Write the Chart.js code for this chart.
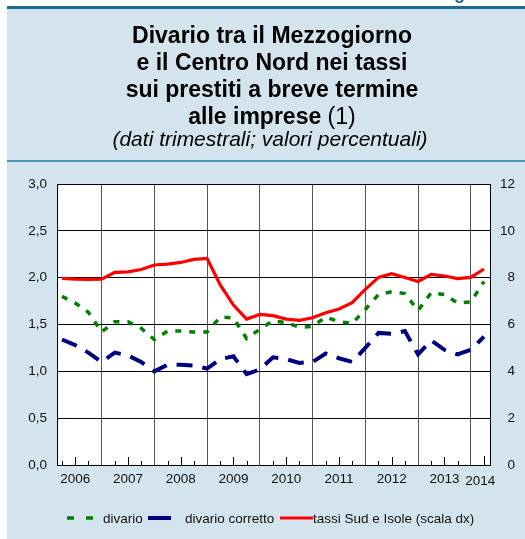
<!DOCTYPE html>
<html><head><meta charset="utf-8">
<script src="https://cdn.jsdelivr.net/npm/chart.js@4.4.0/dist/chart.umd.min.js"></script>
<style>html,body{margin:0;padding:0;background:#fff;overflow:hidden}#wrap{width:525px;height:539px;position:relative}</style>
</head><body><div id="wrap"><canvas id="c" width="525" height="539"></canvas></div>
<script>
const periods = ["2006-Q1","2006-Q2","2006-Q3","2006-Q4","2007-Q1","2007-Q2","2007-Q3","2007-Q4",
  "2008-Q1","2008-Q2","2008-Q3","2008-Q4","2009-Q1","2009-Q2","2009-Q3","2009-Q4",
  "2010-Q1","2010-Q2","2010-Q3","2010-Q4","2011-Q1","2011-Q2","2011-Q3","2011-Q4",
  "2012-Q1","2012-Q2","2012-Q3","2012-Q4","2013-Q1","2013-Q2","2013-Q3","2013-Q4","2014-Q1"];
const divario = [1.80,1.73,1.63,1.42, 1.53,1.53,1.46,1.34, 1.43,1.43,1.42,1.42, 1.58,1.57,1.35,1.45,
  1.54,1.52,1.47,1.48, 1.58,1.53,1.51,1.66, 1.82,1.85,1.83,1.65, 1.84,1.82,1.73,1.74, 1.96];
const divarioCorretto = [1.34,1.28,1.20,1.10, 1.20,1.17,1.10,1.00, 1.07,1.07,1.06,1.03, 1.13,1.16,0.97,1.02,
  1.15,1.13,1.09,1.10, 1.19,1.14,1.10,1.25, 1.41,1.40,1.43,1.18, 1.33,1.23,1.18,1.23, 1.37];
const tassiSudIsole = [7.97,7.94,7.93,7.94, 8.23,8.25,8.35,8.54, 8.58,8.65,8.78,8.82, 7.69,6.83,6.23,6.43,
  6.38,6.23,6.18,6.29, 6.50,6.66,6.93,7.50, 8.01,8.17,8.01,7.84, 8.14,8.07,7.96,8.01, 8.37];
const years = ["2006","2007","2008","2009","2010","2011","2012","2013","2014"];
const seriesNames = ["divario","divario corretto","tassi Sud e Isole (scala dx)"];
const titleLines = ["Divario tra il Mezzogiorno","e il Centro Nord nei tassi","sui prestiti a breve termine","alle imprese"];
const titleNote = " (1)";
const subtitle = "(dati trimestrali; valori percentuali)";
const headerText = "Figura";

const FONT = "'Liberation Sans', Arial, sans-serif";
const periodX = p => { const [y, q] = p.split("-Q"); return Number(y) + Number(q) / 4; };
const pts = arr => arr.map((v, i) => ({ x: periodX(periods[i]), y: v }));
const X_MIN = 2006.155, X_MAX = 2014.364;

const bgPlugin = {
  id: 'bg',
  beforeDraw(chart) {
    const ctx = chart.ctx, a = chart.chartArea;
    ctx.save();
    ctx.fillStyle = '#ffffff'; ctx.fillRect(0, 0, 525, 539);
    ctx.fillStyle = '#d3e4ee'; ctx.fillRect(7, 9, 518, 530);
    ctx.fillStyle = '#1d6b90'; ctx.fillRect(7, 6, 518, 3);
    ctx.fillStyle = '#4a93ba'; ctx.fillRect(7, 160, 518, 2);
    ctx.fillStyle = '#ffffff'; ctx.fillRect(a.left, a.top, a.right - a.left, a.bottom - a.top);
    ctx.fillStyle = '#1d6b90'; ctx.font = 'bold 18px ' + FONT; ctx.textBaseline = 'alphabetic'; ctx.textAlign = 'left';
    ctx.fillText(headerText, 438, -1);
    ctx.fillStyle = '#000';
    const cx = 272;
    titleLines.forEach((t, i) => {
      ctx.font = 'bold 23px ' + FONT;
      const w = ctx.measureText(t).width;
      let w2 = 0;
      if (i === titleLines.length - 1) { ctx.font = '23px ' + FONT; w2 = ctx.measureText(titleNote).width; }
      const x0 = cx - (w + w2) / 2, y = 43 + i * 27;
      ctx.font = 'bold 23px ' + FONT;
      ctx.fillText(t, x0, y);
      if (w2) { ctx.font = '23px ' + FONT; ctx.fillText(titleNote, x0 + w, y); }
    });
    ctx.font = 'italic 21px ' + FONT; ctx.textAlign = 'center';
    ctx.fillText(subtitle, 270, 146);
    ctx.restore();
  },
  afterDatasetsDraw(chart) {
    const ctx = chart.ctx, xs = chart.scales.x, a = chart.chartArea;
    ctx.save();
    ctx.strokeStyle = '#000'; ctx.lineWidth = 1;
    const marks = [];
    years.forEach((y, i) => {
      if (i < years.length - 1) { marks.push([+y + 0.25, 4]); marks.push([+y + 0.5, 8]); marks.push([+y + 0.75, 4]); }
      else marks.push([+y + 0.25, 9]);
    });
    marks.forEach(([v, len]) => {
      const px = Math.round(xs.getPixelForValue(v)) + 0.5;
      ctx.beginPath(); ctx.moveTo(px, a.bottom); ctx.lineTo(px, a.bottom - len); ctx.stroke();
    });
    const ly = 518;
    ctx.lineCap = 'butt';
    ctx.strokeStyle = '#008000'; ctx.lineWidth = 3.5; ctx.setLineDash([7, 12]);
    ctx.beginPath(); ctx.moveTo(67, ly); ctx.lineTo(94, ly); ctx.stroke();
    ctx.setLineDash([]);
    ctx.strokeStyle = '#000080'; ctx.lineWidth = 4;
    ctx.beginPath(); ctx.moveTo(148, ly); ctx.lineTo(171, ly); ctx.stroke();
    ctx.strokeStyle = '#ff0000'; ctx.lineWidth = 3;
    ctx.beginPath(); ctx.moveTo(280, ly); ctx.lineTo(313, ly); ctx.stroke();
    ctx.fillStyle = '#111'; ctx.font = '13.5px ' + FONT; ctx.textBaseline = 'middle'; ctx.textAlign = 'left';
    ctx.fillText(seriesNames[0], 103, ly + 1);
    ctx.fillText(seriesNames[1], 185, ly + 1);
    ctx.fillText(seriesNames[2], 313, ly + 1);
    ctx.restore();
  }
};

const tickFont = { family: FONT, size: 13.5 };
new Chart(document.getElementById('c'), {
  type: 'line',
  plugins: [bgPlugin],
  data: {
    datasets: [
      { label: seriesNames[0], data: pts(divario), yAxisID: 'y', xAxisID: 'x', borderColor: '#008000', borderWidth: 3.5,
        borderDash: [6, 8], pointRadius: 0, tension: 0, fill: false, borderCapStyle: 'butt' },
      { label: seriesNames[1], data: pts(divarioCorretto), yAxisID: 'y', xAxisID: 'x', borderColor: '#000080', borderWidth: 4,
        borderDash: [16, 10], pointRadius: 0, tension: 0, fill: false, borderCapStyle: 'butt' },
      { label: seriesNames[2], data: pts(tassiSudIsole), yAxisID: 'y2', xAxisID: 'x', borderColor: '#ff0000', borderWidth: 3.2,
        pointRadius: 0, tension: 0, fill: false }
    ]
  },
  options: {
    responsive: false, animation: false, devicePixelRatio: 1,
    layout: { padding: { left: 7, right: 10, top: 184, bottom: 0 } },
    plugins: { legend: { display: false }, title: { display: false }, tooltip: { enabled: false } },
    scales: {
      x: { type: 'linear', position: 'bottom', min: X_MIN, max: X_MAX, weight: 0,
        afterBuildTicks: s => { s.ticks = years.slice(1).map(y => ({ value: Number(y) })); },
        afterFit: s => { s.height = 0; },
        ticks: { display: false },
        grid: { color: '#555', lineWidth: 1, drawTicks: false },
        border: { display: true, color: '#000', width: 1 } },
      x2: { type: 'linear', position: 'bottom', min: X_MIN, max: X_MAX, weight: 2,
        afterBuildTicks: s => {
          s.ticks = years.map((y, i) => ({ value: Number(y) + (i === years.length - 1 ? 0.18 : 0.5) }));
        },
        afterFit: s => { s.height = 74; },
        ticks: { autoSkip: false, maxRotation: 0, padding: 6, color: '#111',
          font: c => ({ family: FONT, size: 13.5, lineHeight: c.index === years.length - 1 ? 1.5 : 1.2 }),
          callback: (v, i) => years[i] },
        grid: { display: false, drawTicks: false }, border: { display: false } },
      y: { position: 'left', min: 0, max: 3,
        afterFit: s => { s.width = 50; },
        ticks: { stepSize: 0.5, padding: 10, color: '#111', font: tickFont,
          callback: v => v.toFixed(1).replace('.', ',') },
        grid: { color: '#000', lineWidth: 1, drawTicks: false },
        border: { color: '#000', width: 1 } },
      y2: { position: 'right', min: 0, max: 12,
        afterFit: s => { s.width = 25; },
        ticks: { stepSize: 2, padding: 6, crossAlign: 'far', color: '#111', font: tickFont },
        grid: { display: false, drawTicks: false },
        border: { color: '#000', width: 1 } }
    }
  }
});
</script></body></html>
